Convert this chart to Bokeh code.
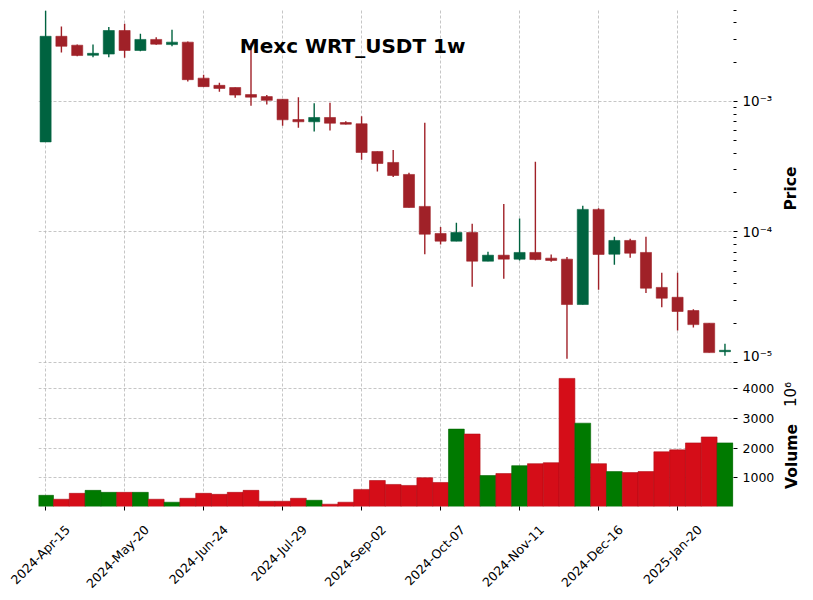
import math
import pandas as pd
from bokeh.plotting import figure
from bokeh.layouts import column, row
from bokeh.models import ColumnDataSource, FixedTicker, Range1d, Label, LinearAxis
from bokeh.embed import file_html
from bokeh.resources import INLINE

# ---------------- data ----------------
start_date = "2024-04-15"
n_weeks = 44
opens = [4.9e-4, 3.16e-3, 2.70e-3, 2.26e-3, 2.31e-3, 3.50e-3, 2.46e-3, 2.99e-3, 2.73e-3, 2.85e-3,
         1.51e-3, 1.33e-3, 1.28e-3, 1.13e-3, 1.09e-3, 1.04e-3, 7.27e-4, 6.99e-4, 7.54e-4, 6.90e-4,
         6.75e-4, 4.14e-4, 3.41e-4, 2.76e-4, 1.57e-4, 9.74e-5, 8.51e-5, 9.91e-5, 5.97e-5, 6.64e-5,
         6.19e-5, 6.97e-5, 6.30e-5, 6.19e-5, 2.78e-5, 1.49e-4, 6.76e-5, 8.61e-5, 6.97e-5, 3.76e-5,
         3.16e-5, 2.50e-5, 2.00e-5, 1.21e-5]
highs = [4.95e-3, 3.76e-3, 2.73e-3, 2.73e-3, 3.73e-3, 3.94e-3, 3.30e-3, 3.11e-3, 3.54e-3, 2.88e-3,
         1.60e-3, 1.39e-3, 1.28e-3, 2.8e-3, 1.12e-3, 1.04e-3, 1.08e-3, 9.70e-4, 9.77e-4, 7.06e-4,
         7.71e-4, 4.14e-4, 4.25e-4, 2.84e-4, 6.87e-4, 1.09e-4, 1.175e-4, 1.155e-4, 7.05e-5, 1.64e-4,
         1.27e-4, 3.45e-4, 6.73e-5, 6.43e-5, 1.59e-4, 1.52e-4, 9.18e-5, 8.87e-5, 9.18e-5, 4.87e-5,
         4.87e-5, 2.56e-5, 2.00e-5, 1.39e-5]
lows = [4.9e-4, 2.37e-3, 2.22e-3, 2.18e-3, 2.18e-3, 2.16e-3, 2.43e-3, 2.72e-3, 2.65e-3, 1.42e-3,
        1.29e-3, 1.19e-3, 1.07e-3, 9.27e-4, 9.48e-4, 6.51e-4, 6.29e-4, 5.89e-4, 6.00e-4, 6.66e-4,
        3.57e-4, 2.91e-4, 2.64e-4, 1.54e-4, 6.76e-5, 8.02e-5, 8.51e-5, 3.80e-5, 5.97e-5, 4.38e-5,
        6.05e-5, 6.08e-5, 5.91e-5, 1.07e-5, 2.78e-5, 3.61e-5, 5.61e-5, 6.34e-5, 3.40e-5, 2.65e-5,
        1.76e-5, 1.85e-5, 1.19e-5, 1.125e-5]
closes = [3.16e-3, 2.65e-3, 2.25e-3, 2.34e-3, 3.50e-3, 2.46e-3, 2.99e-3, 2.75e-3, 2.85e-3, 1.47e-3,
          1.30e-3, 1.26e-3, 1.12e-3, 1.08e-3, 1.02e-3, 7.24e-4, 6.99e-4, 7.54e-4, 6.82e-4, 6.70e-4,
          4.07e-4, 3.35e-4, 2.71e-4, 1.54e-4, 9.62e-5, 8.51e-5, 9.91e-5, 5.97e-5, 6.64e-5, 6.19e-5,
          6.97e-5, 6.15e-5, 6.05e-5, 2.78e-5, 1.49e-4, 6.73e-5, 8.61e-5, 6.88e-5, 3.71e-5, 3.11e-5,
          2.46e-5, 1.95e-5, 1.19e-5, 1.24e-5]
# volume in units of 10^6
volumes = [410, 277, 477, 577, 510, 510, 510, 277, 177, 310,
           477, 443, 510, 577, 210, 210, 310, 243, 110, 177,
           610, 910, 777, 743, 1005, 843, 2643, 2477, 1077, 1143,
           1410, 1477, 1510, 4353, 2843, 1477, 1210, 1177, 1210, 1877,
           1943, 2177, 2377, 2177]
tick_step = 5
title_text = "Mexc WRT_USDT 1w"
price_label = "Price"
volume_label = "Volume"
volume_exp = "10⁶"

# ---------------- styling ----------------
UP, DOWN = "#006340", "#a02128"
VUP, VDOWN = "#007a00", "#d50d18"
VUP_EDGE, VDOWN_EDGE = "#006400", "#b00b14"
GRID = "#b8b8b8"
FONT = "DejaVu Sans"
TICK_FS = "12.5px"

dates = pd.date_range(start_date, periods=n_weeks, freq="7D")
idx = list(range(n_weeks))
up = [c >= o for o, c in zip(opens, closes)]
src = ColumnDataSource(dict(
    x=idx, o=opens, h=highs, l=lows, c=closes, v=volumes,
    top=[max(o, c) for o, c in zip(opens, closes)],
    bot=[min(o, c) for o, c in zip(opens, closes)],
    col=[UP if u else DOWN for u in up],
    vcol=[VUP if u else VDOWN for u in up],
    vedge=[VUP_EDGE if u else VDOWN_EDGE for u in up],
))

xr = Range1d(-0.45, n_weeks - 0.46)
xticks = idx[::tick_step]
label_shift = 1.4   # centre the rotated date labels on their ticks
xlabels = {i + label_shift: dates[i].strftime("%Y-%b-%d") for i in xticks}

PW = 779  # width of chart panels; a narrow strip on the right holds the axis titles

# ---------------- price panel ----------------
p1 = figure(width=PW, height=363, x_range=xr, y_range=Range1d(9.82e-6, 5.07e-3),
            y_axis_type="log", y_axis_location="right", x_axis_location=None,
            output_backend="svg", toolbar_location=None,
            min_border_left=38, min_border_right=46, min_border_top=9, min_border_bottom=0)
p1.outline_line_color = None
p1.segment(x0="x", y0="l", x1="x", y1="h", color="col", line_width=1.4, source=src)
p1.vbar(x="x", width=0.7, top="top", bottom="bot", fill_color="col", line_color="col",
        line_width=0.6, source=src)

majors = [1e-5, 1e-4, 1e-3]
minors = [k * 10.0 ** e for e in (-6, -5, -4, -3) for k in range(2, 10)]
p1.yaxis.ticker = FixedTicker(ticks=majors, minor_ticks=minors)
p1.yaxis.major_label_overrides = {1e-5: "10⁻⁵", 1e-4: "10⁻⁴", 1e-3: "10⁻³"}
p1.ygrid.ticker = FixedTicker(ticks=majors)
p1.xgrid.ticker = FixedTicker(ticks=xticks)

title = Label(x=19.43, y=2.64e-3, text=title_text, text_align="center", text_baseline="middle",
              text_font=FONT, text_font_size="20px", text_font_style="bold", text_color="black")
p1.add_layout(title)

# ---------------- volume panel ----------------
p2 = figure(width=PW, height=237, x_range=xr,
            y_range=Range1d(0.3 * min(volumes), 1.1 * max(volumes)),
            y_axis_location="right", output_backend="svg", toolbar_location=None,
            min_border_left=38, min_border_right=46, min_border_top=2, min_border_bottom=94)
p2.outline_line_color = None
p2.vbar(x="x", width=1.0, top="v", bottom=0, fill_color="vcol", line_color="vedge",
        line_width=0.6, source=src)
p2.yaxis.ticker = FixedTicker(ticks=[1000, 2000, 3000, 4000])
p2.xaxis.ticker = FixedTicker(ticks=xticks)
p2.xaxis.major_label_overrides = {i: "" for i in xticks}
p2.ygrid.ticker = FixedTicker(ticks=[1000, 2000, 3000, 4000])
p2.xgrid.ticker = FixedTicker(ticks=xticks)

date_axis = LinearAxis(ticker=FixedTicker(ticks=list(xlabels.keys())),
                       major_label_overrides=xlabels)
p2.add_layout(date_axis, "below")

for p in (p1, p2):
    p.background_fill_color = "white"
    p.border_fill_color = "white"
    for g in (p.xgrid, p.ygrid):
        g.grid_line_color = GRID
        g.grid_line_dash = "3 2"
        g.grid_line_width = 0.8
    for ax in p.axis:
        ax.axis_line_color = None
        ax.major_tick_in = 0
        ax.major_tick_out = 4
        ax.minor_tick_in = 0
        ax.minor_tick_out = 3
        ax.major_tick_line_color = "black"
        ax.minor_tick_line_color = "black"
        ax.major_label_text_font = FONT
        ax.major_label_text_font_size = TICK_FS
        ax.major_label_text_color = "black"
p1.yaxis.major_label_text_font_size = "13.5px"
p2.yaxis.minor_tick_out = 0
p2.xaxis.minor_tick_out = 0
p2.xaxis.major_label_standoff = 0
date_axis.major_tick_out = 0
date_axis.minor_tick_out = 0
date_axis.major_label_standoff = 17
date_axis.major_label_orientation = math.pi / 4

# ---------------- axis-title strip (reads bottom to top, like the reference) ----------------
strip = figure(width=813 - PW, height=600, x_range=Range1d(PW, 813), y_range=Range1d(600, 0),
               x_axis_location=None, y_axis_location=None, output_backend="svg",
               toolbar_location=None, min_border=0)
strip.outline_line_color = None
strip.xgrid.visible = False
strip.ygrid.visible = False
strip.border_fill_color = "white"
strip.background_fill_color = "white"
for txt, xx, yy, style, fs in ((price_label, 790.5, 188, "bold", "15.5px"),
                               (volume_label, 791, 456, "bold", "15.5px"),
                               (volume_exp, 790, 394, "normal", "15px")):
    strip.add_layout(Label(x=xx, y=yy, text=txt, angle=math.pi / 2, text_align="center",
                           text_baseline="middle", text_font=FONT, text_font_size=fs,
                           text_font_style=style, text_color="black"))

layout = row(column(p1, p2, spacing=0), strip, spacing=0)
open("out.html", "w").write(file_html(layout, INLINE))
